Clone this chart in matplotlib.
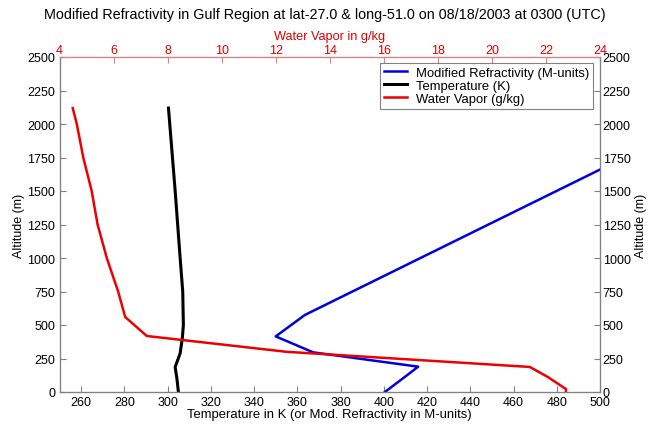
import numpy as np
import matplotlib
matplotlib.use("Agg")
import matplotlib.pyplot as plt

plt.rcParams['font.family'] = ['Liberation Sans', 'DejaVu Sans']

# modified refractivity (M-units) vs altitude
m_units = [400.5, 410.5, 415.9, 367.3, 350.0, 363.5, 500.0, 556.0]
m_alt = [0, 122, 189, 296, 415, 575, 1660, 2120]

# temperature (K) vs altitude
temp_k = [305.0, 304.3, 303.5, 305.8, 306.8, 307.3, 307.0, 305.8, 303.5, 300.4]
temp_alt = [0, 100, 186, 289, 400, 500, 750, 1000, 1500, 2119]

# water vapor (g/kg) vs altitude
wv = [22.74, 22.74, 22.07, 21.4, 12.4, 7.23, 6.43, 6.17, 5.75, 5.41, 5.19, 4.88, 4.64, 4.49]
wv_alt = [0, 22, 112, 187, 300, 418, 560, 750, 1000, 1250, 1500, 1750, 2000, 2119]

alt_ticks = np.arange(0, 2501, 250)
grey = '#808080'

fig = plt.figure(figsize=(6.49, 4.27), dpi=100)
ax = fig.add_axes([59.5 / 649, 1 - 393 / 427, 540.5 / 649, 335 / 427])

l1, = ax.plot(m_units, m_alt, color='#0000dd', lw=1.8, label='Modified Refractivity (M-units)')
l2, = ax.plot(temp_k, temp_alt, color='black', lw=2.2, label='Temperature (K)')
ax.set_xlim(250, 500)
ax.set_ylim(0, 2500)
ax.set_xticks(np.arange(260, 501, 20))
ax.set_yticks(alt_ticks)
ax.set_xlabel('Temperature in K (or Mod. Refractivity in M-units)', fontsize=9.4, labelpad=0)
ax.set_ylabel('Altitude (m)', fontsize=9, labelpad=2)
ax.tick_params(direction='in', length=4, color=grey, labelsize=9, pad=3)

ax2 = ax.twiny()
l3, = ax2.plot(wv, wv_alt, color='#ee0000', lw=1.8, label='Water Vapor (g/kg)')
ax2.set_xlim(4, 24)
ax2.set_xticks(np.arange(4, 25, 2))
ax2.set_xlabel('Water Vapor in g/kg', color='#dd0000', fontsize=9.2, labelpad=3)
ax2.tick_params(direction='in', length=4, color='#e08080', labelcolor='#dd0000', labelsize=9, pad=1)

ax3 = ax.twinx()
ax3.set_ylim(0, 2500)
ax3.set_yticks(alt_ticks)
ax3.set_ylabel('Altitude (m)', fontsize=9, labelpad=3)
ax3.tick_params(direction='in', length=4, color=grey, labelsize=9, pad=2)

for a in (ax, ax2, ax3):
    for s in ('left', 'right', 'bottom'):
        a.spines[s].set_color(grey)
    a.spines['top'].set_color('#e08080')

leg = ax3.legend(handles=[l1, l2, l3], loc='upper right', fontsize=9.4,
                 fancybox=False, edgecolor=grey, framealpha=1,
                 borderpad=0.3, labelspacing=0.05, handlelength=1.75,
                 handletextpad=0.7, borderaxespad=0,
                 bbox_to_anchor=(1 - 7 / 540.5, 1 - 6 / 335))
leg.get_frame().set_linewidth(0.8)

fig.text(0.5, 1 - 15 / 427, 'Modified Refractivity in Gulf Region at lat-27.0 & long-51.0 on 08/18/2003 at 0300 (UTC)',
         ha='center', va='center', fontsize=10.4)

fig.savefig('out.png', dpi=100)
